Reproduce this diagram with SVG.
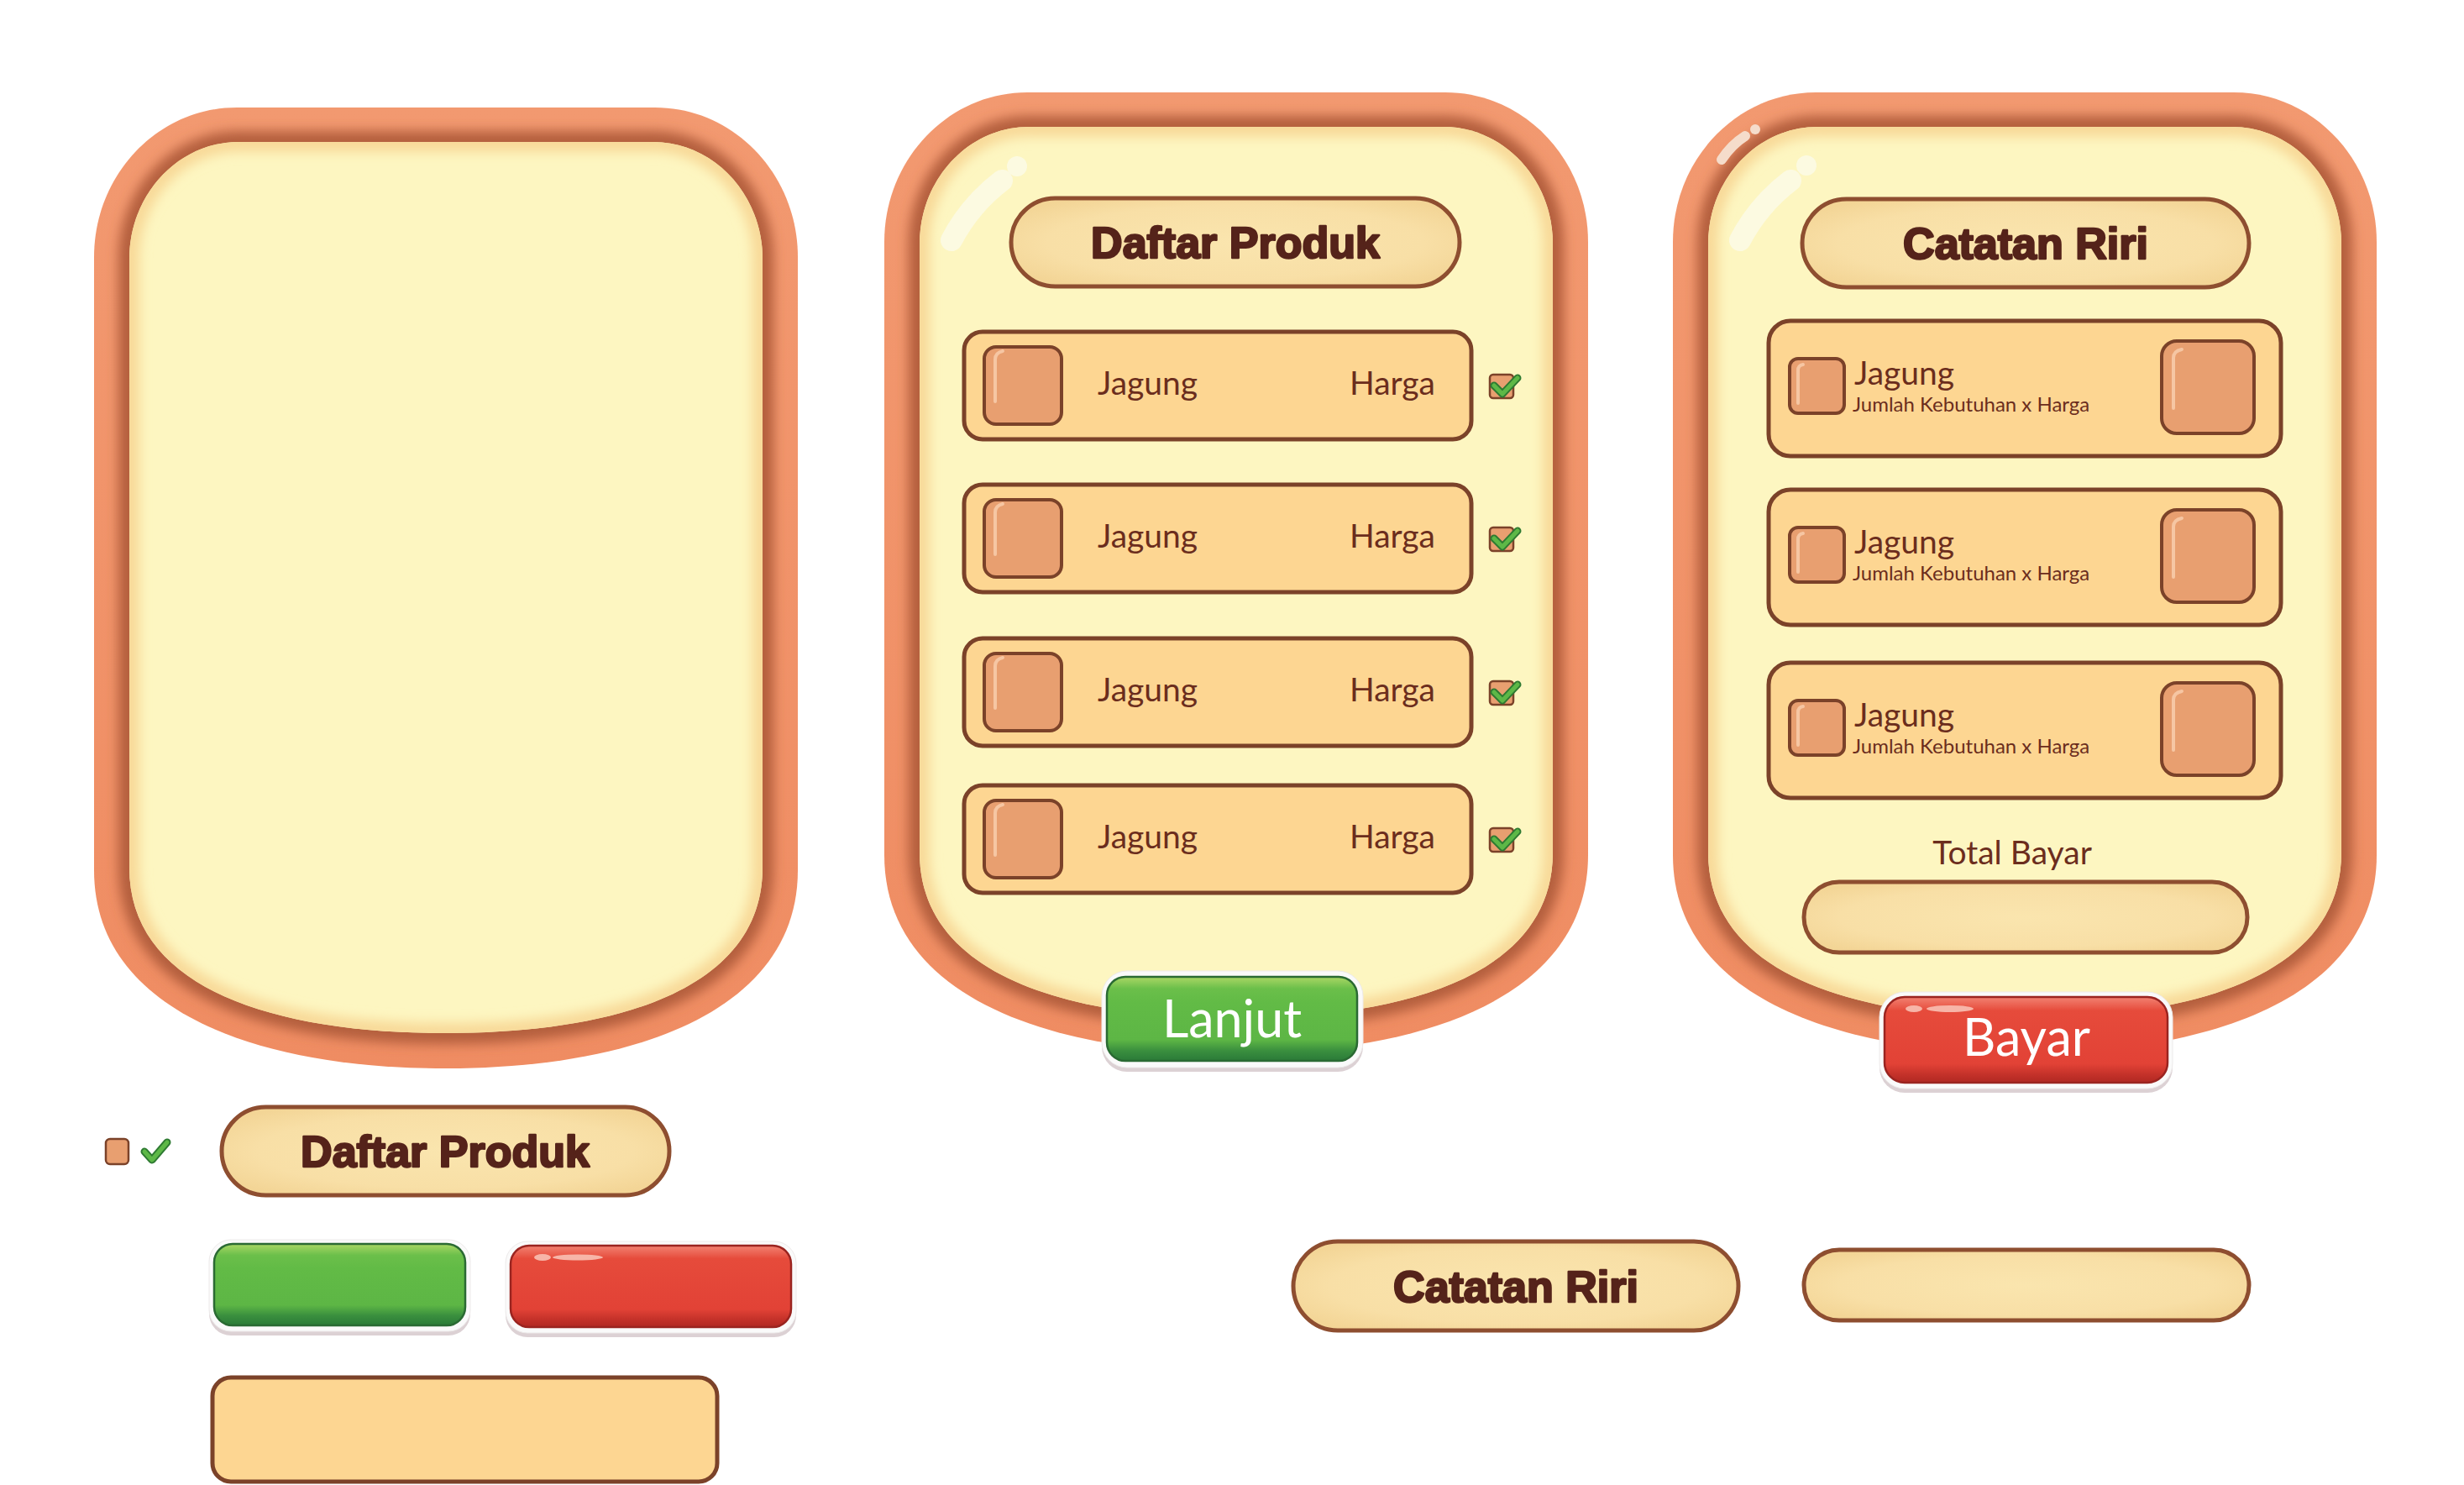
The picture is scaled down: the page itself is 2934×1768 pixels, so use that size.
<svg xmlns="http://www.w3.org/2000/svg" xmlns:xlink="http://www.w3.org/1999/xlink" width="2934" height="1768" viewBox="0 0 2934 1768">
<style>
.rim{fill:url(#gRim)}
.cream{fill:#FDF6C1}
.pill{fill:url(#gPill);stroke:#8E4E30;stroke-width:5}
.row{fill:#FDD692;stroke:#7B4229;stroke-width:5}
.sq{fill:#E89F70;stroke:#7B4229;stroke-width:4}
.shine{fill:none;stroke:#F6C6A3;stroke-width:4;stroke-linecap:round}
.title{font-family:"Liberation Sans",Arial,sans-serif;font-weight:700;font-size:52px;fill:#55231A;stroke:#55231A;stroke-width:2.5;stroke-linejoin:round;text-anchor:middle}
.item{font-family:Lato,"Open Sans",sans-serif;font-size:39px;fill:#6B2D1D}
.sub{font-family:Lato,"Open Sans",sans-serif;font-size:24px;fill:#6B2D1D}
.btntxt{font-family:Lato,"Open Sans",sans-serif;font-size:61px;fill:#FFFFFF;text-anchor:middle}
.btnrim{fill:#FAFAFA;stroke:#EDEAEA;stroke-width:1}
.btnshadow{fill:#DCD1D4}
.green{fill:url(#gGreen);stroke:#2A6A33;stroke-width:2.5}
.red{fill:url(#gRed);stroke:#9A2420;stroke-width:2.5}
.chkd{fill:none;stroke:#2E7A32;stroke-width:9;stroke-linecap:round;stroke-linejoin:round}
.chkg{fill:none;stroke:#5DB847;stroke-width:5;stroke-linecap:round;stroke-linejoin:round}
.hl{fill:none;stroke:#FBFAE6;stroke-width:26;stroke-linecap:round;opacity:0.85}
</style>
<defs>
<linearGradient id="gRim" x1="0" y1="0" x2="0" y2="1">
<stop offset="0" stop-color="#F29970"/>
<stop offset="1" stop-color="#EF8C62"/>
</linearGradient>
<radialGradient id="gPill" cx="0.5" cy="0.5" r="0.6">
<stop offset="0" stop-color="#FAE5AE"/>
<stop offset="0.7" stop-color="#F8DFA6"/>
<stop offset="1" stop-color="#F3D596"/>
</radialGradient>
<linearGradient id="gGreen" x1="0" y1="0" x2="0" y2="1">
<stop offset="0" stop-color="#AAD765"/>
<stop offset="0.14" stop-color="#6BBF4A"/>
<stop offset="0.3" stop-color="#62BB46"/>
<stop offset="0.75" stop-color="#5DB645"/>
<stop offset="0.88" stop-color="#3A8F3E"/>
<stop offset="1" stop-color="#2A7A38"/>
</linearGradient>
<linearGradient id="gRed" x1="0" y1="0" x2="0" y2="1">
<stop offset="0" stop-color="#F28272"/>
<stop offset="0.16" stop-color="#E64B3B"/>
<stop offset="0.78" stop-color="#E24236"/>
<stop offset="0.9" stop-color="#C5322A"/>
<stop offset="1" stop-color="#B02822"/>
</linearGradient>
<filter id="blur" x="-10%" y="-10%" width="120%" height="120%">
<feGaussianBlur stdDeviation="7"/>
</filter>
<path id="pOuter" d="M0,178 C0,80 76,0 170,0 L668,0 C762,0 838,80 838,178 L838,908 C838,1075 645,1144 419,1144 C193,1144 0,1075 0,908 Z"/>
<path id="pInner" d="M42,180 C42,104 100,41 172,41 L666,41 C738,41 796,104 796,180 L796,905 C796,1050 622,1102 419,1102 C216,1102 42,1050 42,905 Z"/>
<clipPath id="cOuter"><use xlink:href="#pOuter"/></clipPath>
<clipPath id="cInner"><use xlink:href="#pInner"/></clipPath>
<g id="panelBase">
<use xlink:href="#pOuter" class="rim"/>
<g clip-path="url(#cOuter)"><use xlink:href="#pInner" fill="none" stroke="#B45E3E" stroke-width="26" filter="url(#blur)"/></g>
<use xlink:href="#pInner" class="cream"/>
<g clip-path="url(#cInner)"><use xlink:href="#pInner" fill="none" stroke="#F8D998" stroke-width="24" filter="url(#blur)"/></g>
</g>
<g id="chk">
<rect x="0" y="0" width="28" height="28" rx="4" fill="#E89F70" stroke="#7B4229" stroke-width="2.5"/>
<path class="chkd" d="M5,13 L15,23 L33,4"/>
<path class="chkg" d="M5,13 L15,23 L33,4"/>
</g>
</defs>
<rect width="2934" height="1768" fill="#FFFFFF"/>

<g id="panel-empty" transform="translate(112,128)">
<use xlink:href="#panelBase"/>
</g>

<g id="panel-daftar" transform="translate(1053,110)">
<use xlink:href="#panelBase"/>
<path class="hl" d="M80,176 Q102,134 140,105"/>
<circle cx="158" cy="88" r="12" fill="#FBFAE6" opacity="0.85"/>
</g>

<g id="panel-catatan" transform="translate(1992,110)">
<use xlink:href="#panelBase"/>
<path d="M58,80 Q70,62 86,52" fill="none" stroke="#F5DCCB" stroke-width="12" stroke-linecap="round"/>
<circle cx="98" cy="44" r="6" fill="#F5DCCB"/>
<path class="hl" d="M80,176 Q102,134 140,105"/>
<circle cx="159" cy="87" r="12" fill="#FBFAE6" opacity="0.85"/>
</g>

<g id="title-daftar">
<rect class="pill" x="1204" y="236" width="534" height="105" rx="52.5"/>
<text class="title" x="1471" y="307">Daftar Produk</text>
</g>

<g id="row-m1">
<rect class="row" x="1148" y="395" width="604" height="128" rx="22"/>
<rect class="sq" x="1172" y="413" width="92" height="92" rx="14"/>
<path class="shine" d="M1185,478 V428 Q1185,420 1194,418"/>
<text class="item" x="1307" y="470">Jagung</text>
<text class="item" x="1709" y="470" text-anchor="end">Harga</text>
<use xlink:href="#chk" x="1774" y="446"/>
</g>
<g id="row-m2">
<rect class="row" x="1148" y="577" width="604" height="128" rx="22"/>
<rect class="sq" x="1172" y="595" width="92" height="92" rx="14"/>
<path class="shine" d="M1185,660 V610 Q1185,602 1194,600"/>
<text class="item" x="1307" y="652">Jagung</text>
<text class="item" x="1709" y="652" text-anchor="end">Harga</text>
<use xlink:href="#chk" x="1774" y="628"/>
</g>
<g id="row-m3">
<rect class="row" x="1148" y="760" width="604" height="128" rx="22"/>
<rect class="sq" x="1172" y="778" width="92" height="92" rx="14"/>
<path class="shine" d="M1185,843 V793 Q1185,785 1194,783"/>
<text class="item" x="1307" y="835">Jagung</text>
<text class="item" x="1709" y="835" text-anchor="end">Harga</text>
<use xlink:href="#chk" x="1774" y="811"/>
</g>
<g id="row-m4">
<rect class="row" x="1148" y="935" width="604" height="128" rx="22"/>
<rect class="sq" x="1172" y="953" width="92" height="92" rx="14"/>
<path class="shine" d="M1185,1018 V968 Q1185,960 1194,958"/>
<text class="item" x="1307" y="1010">Jagung</text>
<text class="item" x="1709" y="1010" text-anchor="end">Harga</text>
<use xlink:href="#chk" x="1774" y="986"/>
</g>

<g id="btn-lanjut">
<rect class="btnshadow" x="1312" y="1161" width="311" height="115" rx="30"/>
<rect class="btnrim" x="1312" y="1156" width="311" height="115" rx="30"/>
<rect class="green" x="1318" y="1163" width="298" height="100" rx="22"/>
<text class="btntxt" x="1467" y="1235">Lanjut</text>
</g>

<g id="title-catatan">
<rect class="pill" x="2146" y="237" width="532" height="105" rx="52.5"/>
<text class="title" x="2412" y="308">Catatan Riri</text>
</g>

<g id="row-r1">
<rect class="row" x="2106" y="382" width="610" height="161" rx="26"/>
<rect class="sq" x="2131" y="427" width="65" height="65" rx="10" stroke-width="3.5"/>
<path class="shine" d="M2141,480 V441 Q2141,435 2147,434" stroke-width="3"/>
<text class="item" x="2208" y="458">Jagung</text>
<text class="sub" x="2206" y="490">Jumlah Kebutuhan x Harga</text>
<rect class="sq" x="2574" y="406" width="110" height="110" rx="18"/>
<path class="shine" d="M2588,486 V426 Q2588,418 2598,416" stroke-width="5"/>
</g>
<g id="row-r2">
<rect class="row" x="2106" y="583" width="610" height="161" rx="26"/>
<rect class="sq" x="2131" y="628" width="65" height="65" rx="10" stroke-width="3.5"/>
<path class="shine" d="M2141,681 V642 Q2141,636 2147,635" stroke-width="3"/>
<text class="item" x="2208" y="659">Jagung</text>
<text class="sub" x="2206" y="691">Jumlah Kebutuhan x Harga</text>
<rect class="sq" x="2574" y="607" width="110" height="110" rx="18"/>
<path class="shine" d="M2588,687 V627 Q2588,619 2598,617" stroke-width="5"/>
</g>
<g id="row-r3">
<rect class="row" x="2106" y="789" width="610" height="161" rx="26"/>
<rect class="sq" x="2131" y="834" width="65" height="65" rx="10" stroke-width="3.5"/>
<path class="shine" d="M2141,887 V848 Q2141,842 2147,841" stroke-width="3"/>
<text class="item" x="2208" y="865">Jagung</text>
<text class="sub" x="2206" y="897">Jumlah Kebutuhan x Harga</text>
<rect class="sq" x="2574" y="813" width="110" height="110" rx="18"/>
<path class="shine" d="M2588,893 V833 Q2588,825 2598,823" stroke-width="5"/>
</g>

<g id="total-bayar">
<text class="item" x="2396" y="1029" text-anchor="middle" font-size="37">Total Bayar</text>
<rect class="pill" x="2148" y="1050" width="528" height="84" rx="42" stroke-width="4"/>
</g>

<g id="btn-bayar">
<rect class="btnshadow" x="2238" y="1186" width="349" height="115" rx="30"/>
<rect class="btnrim" x="2238" y="1181" width="349" height="115" rx="30"/>
<rect class="red" x="2244" y="1187" width="337" height="102" rx="24"/>
<ellipse cx="2279" cy="1201" rx="10" ry="4" fill="#F7B5A8"/>
<ellipse cx="2322" cy="1201" rx="28" ry="4" fill="#F7B5A8"/>
<text class="btntxt" x="2413" y="1257">Bayar</text>
</g>

<g id="legend-check">
<rect x="126" y="1356" width="27" height="30" rx="5" fill="#E89F70" stroke="#7B4229" stroke-width="2.5"/>
<path class="chkd" d="M172,1371 L181,1381 L199,1360" stroke-width="8"/>
<path class="chkg" d="M172,1371 L181,1381 L199,1360" stroke-width="4.5"/>
</g>

<g id="pill-daftar">
<rect class="pill" x="264" y="1318" width="533" height="105" rx="52.5"/>
<text class="title" x="530" y="1389">Daftar Produk</text>
</g>

<g id="btn-green">
<rect class="btnshadow" x="249" y="1481" width="311" height="109" rx="26"/>
<rect class="btnrim" x="249" y="1476" width="311" height="109" rx="26"/>
<rect class="green" x="255" y="1481" width="299" height="97" rx="22"/>
</g>

<g id="btn-red">
<rect class="btnshadow" x="602" y="1483" width="346" height="109" rx="26"/>
<rect class="btnrim" x="602" y="1478" width="346" height="109" rx="26"/>
<rect class="red" x="608" y="1483" width="334" height="97" rx="22"/>
<ellipse cx="646" cy="1497" rx="10" ry="4" fill="#F7B5A8"/>
<ellipse cx="688" cy="1497" rx="30" ry="3.5" fill="#F7B5A8"/>
</g>

<g id="box-yellow">
<rect class="row" x="253" y="1640" width="601" height="124" rx="22"/>
</g>

<g id="pill-catatan">
<rect class="pill" x="1540" y="1478" width="530" height="106" rx="53"/>
<text class="title" x="1805" y="1550">Catatan Riri</text>
</g>

<g id="pill-empty">
<rect class="pill" x="2148" y="1488" width="530" height="84" rx="42" stroke-width="4"/>
</g>
</svg>
